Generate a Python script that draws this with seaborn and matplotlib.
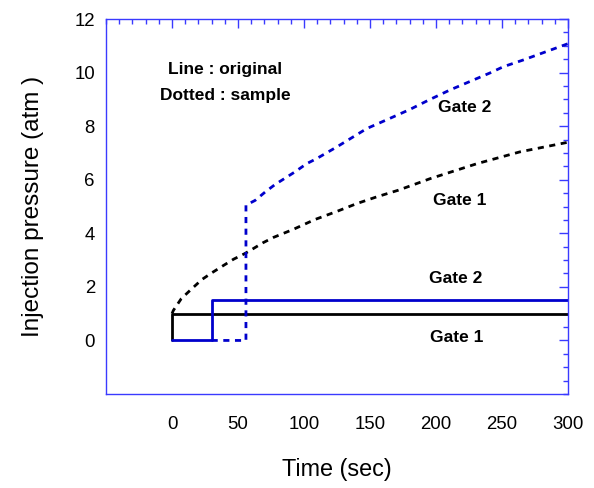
import matplotlib
matplotlib.use("Agg")
import matplotlib.pyplot as plt
from matplotlib.ticker import MultipleLocator, FixedLocator
import seaborn as sns
import pandas as pd

sns.set_theme(style="white")
plt.rcParams["font.family"] = ["Liberation Sans", "DejaVu Sans"]
plt.rcParams["text.color"] = "black"
plt.rcParams["axes.labelcolor"] = "black"

# Original gate pressures (solid step lines)
orig_g1_t = [0, 0, 300]
orig_g1_p = [0, 1, 1]
orig_g2_t = [0, 30, 30, 300]
orig_g2_p = [0, 0, 1.5, 1.5]

# Sample gate pressures (dashed curves)
samp_g1_t = [0, 1, 7, 15, 22.5, 30, 39, 46.5, 55, 61.6, 69, 77, 92, 108,
             125, 140, 155, 171.5, 185.5, 195.5, 231, 263.5, 300]
samp_g1_p = [1.0, 1.12, 1.56, 1.93, 2.27, 2.52, 2.80, 3.03, 3.24, 3.43,
             3.65, 3.85, 4.15, 4.51, 4.82, 5.11, 5.36, 5.61, 5.86, 6.04,
             6.60, 7.04, 7.40]
samp_g2_t = [30, 56, 56, 63, 70.5, 78, 93, 102, 109.6, 125, 147.5, 165,
             180, 195.5, 210.5, 241, 251, 266, 300]
samp_g2_p = [0, 0, 5.05, 5.23, 5.54, 5.82, 6.29, 6.60, 6.79, 7.23, 7.91,
             8.29, 8.62, 9.00, 9.35, 9.99, 10.22, 10.47, 11.08]

x_ticks = [0, 50, 100, 150, 200, 250, 300]
y_ticks = [0, 2, 4, 6, 8, 10, 12]

BLUE = "#0000cc"
AXIS_BLUE = "#3a3aff"

fig = plt.figure(figsize=(5.94, 4.88), dpi=100)
ax = fig.add_axes([0.1785, 0.1926, 0.7778, 0.7684])

dash = (0, (2.2, 2.0))
series = [
    (orig_g1_t, orig_g1_p, "black", "-"),
    (orig_g2_t, orig_g2_p, BLUE, "-"),
    (samp_g1_t, samp_g1_p, "black", dash),
    (samp_g2_t, samp_g2_p, BLUE, dash),
]
for t, p, c, ls in series:
    df = pd.DataFrame({"t": t, "p": p})
    sns.lineplot(data=df, x="t", y="p", sort=False, estimator=None,
                 color=c, linestyle=ls, linewidth=2.0, ax=ax)

ax.set_xlim(-50, 300)
ax.set_ylim(-2, 12)
ax.xaxis.set_major_locator(FixedLocator(x_ticks))
ax.yaxis.set_major_locator(FixedLocator(y_ticks))
ax.xaxis.set_minor_locator(MultipleLocator(10))
ax.yaxis.set_minor_locator(MultipleLocator(0.5))

for s in ax.spines.values():
    s.set_color(AXIS_BLUE)
    s.set_linewidth(1.0)

ax.tick_params(which="both", direction="in", top=True, right=True,
               color=AXIS_BLUE, width=1.0, labelsize=13.4, labelcolor="black")
ax.tick_params(which="major", length=6.5)
ax.tick_params(which="minor", length=3.5)
ax.tick_params(axis="x", which="major", pad=16)
ax.tick_params(axis="y", which="major", pad=8)

ax.set_xlabel("Time (sec)", fontsize=16.8, labelpad=18, color="black")
ax.set_ylabel("Injection pressure (atm )", fontsize=17.5, labelpad=22,
              color="black")

bold = dict(fontsize=12.5, fontweight="bold", ha="center", va="center",
            color="black")
ax.text(40, 10.13, "Line : original", **bold)
ax.text(40, 9.13, "Dotted : sample", **bold)
ax.text(222, 8.7, "Gate 2", **bold)
ax.text(218, 5.23, "Gate 1", **bold)
ax.text(215, 2.3, "Gate 2", **bold)
ax.text(216, 0.1, "Gate 1", **bold)

fig.savefig("out.png", dpi=100, facecolor="white")
